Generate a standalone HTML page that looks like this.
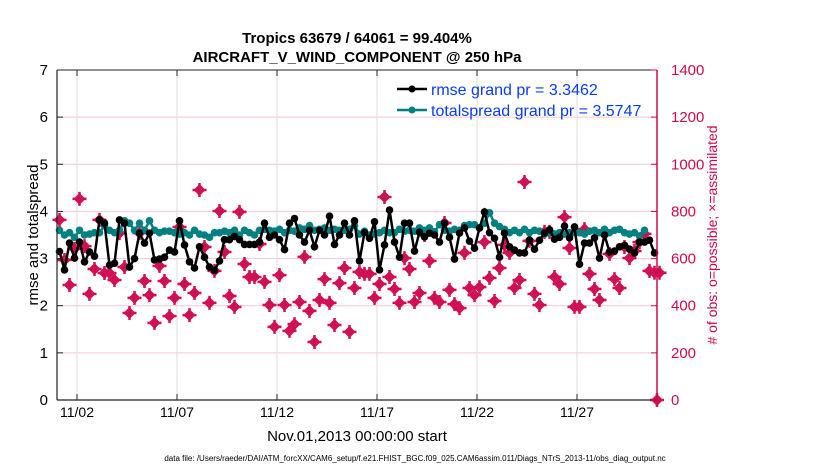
<!DOCTYPE html>
<html><head><meta charset="utf-8"><style>
body{margin:0;background:#fff;}
svg{display:block;font-family:"Liberation Sans",Arial,sans-serif;}
</style></head><body>
<svg id="chart" width="830" height="470" viewBox="0 0 830 470">
<text x="357" y="43" text-anchor="middle" font-size="15" font-weight="bold">Tropics 63679 / 64061 = 99.404%</text>
<text x="357" y="62" text-anchor="middle" font-size="15" font-weight="bold">AIRCRAFT_V_WIND_COMPONENT @ 250 hPa</text>
<g id="grid"></g>
<g id="marks"></g>
<g id="axes"></g>
<text transform="translate(38,235) rotate(-90)" text-anchor="middle" font-size="15">rmse and totalspread</text>
<text transform="translate(717,235) rotate(-90)" text-anchor="middle" font-size="14" fill="#cc0a4a"># of obs: o=possible; ×=assimilated</text>
<text x="357" y="441" text-anchor="middle" font-size="15">Nov.01,2013 00:00:00 start</text>
<text x="415" y="461" text-anchor="middle" font-size="8">data file: /Users/raeder/DAI/ATM_forcXX/CAM6_setup/f.e21.FHIST_BGC.f09_025.CAM6assim.011/Diags_NTrS_2013-11/obs_diag_output.nc</text>
<g>
<line x1="397" y1="89" x2="427" y2="89" stroke="#000" stroke-width="2.5"/><circle cx="412" cy="89" r="3.5" fill="#000"/>
<text x="431" y="95" font-size="16" fill="#0a3cf5">rmse grand pr = 3.3462</text>
<line x1="397" y1="110" x2="427" y2="110" stroke="#008080" stroke-width="2.5"/><circle cx="412" cy="110" r="3.5" fill="#008080"/>
<text x="431" y="116" font-size="16" fill="#0a3cf5">totalspread grand pr = 3.5747</text>
</g>
</svg>
<script>
const xTickLabels=["11/02","11/07","11/12","11/17","11/22","11/27"];
const xTickDays=[1,6,11,16,21,26];
const yTicks=[0,1,2,3,4,5,6,7];
const y2Ticks=[0,200,400,600,800,1000,1200,1400];
const rmse=[3.15,2.76,3.33,3.01,3.35,2.93,3.14,3.05,3.82,3.75,2.86,2.9,3.82,3.75,2.82,3.0,3.54,3.33,3.54,2.97,2.99,3.03,3.18,3.14,3.8,3.29,2.93,2.8,3.25,3.03,2.82,
2.75,2.95,3.4,3.4,3.47,3.4,3.3,3.3,3.3,3.35,3.75,3.45,3.5,3.4,3.19,3.75,3.85,3.5,3.35,3.6,3.25,3.6,3.5,3.9,3.3,3.5,3.75,3.5,3.8,2.95,3.55,
3.43,3.78,2.76,3.29,4.03,3.35,3.03,3.75,3.75,3.16,3.56,3.46,3.54,3.5,3.35,3.75,3.45,2.99,3.54,3.65,3.37,3.22,3.65,3.99,3.55,3.43,3.03,3.54,3.25,3.18,
3.12,3.12,3.39,3.2,3.39,3.54,3.61,3.41,3.45,3.69,3.44,3.67,2.88,3.33,3.33,3.44,3.01,3.5,3.14,3.16,3.25,3.28,3.2,3.12,3.35,3.35,3.39,3.12];
const spread=[3.6,3.5,3.55,3.45,3.6,3.5,3.52,3.55,3.55,3.7,3.6,3.55,3.6,3.8,3.75,3.6,3.75,3.6,3.8,3.6,3.55,3.58,3.58,3.55,3.52,3.55,3.5,3.6,3.52,3.5,3.45,
3.55,3.55,3.58,3.55,3.6,3.5,3.6,3.55,3.5,3.6,3.62,3.6,3.58,3.62,3.55,3.6,3.58,3.65,3.62,3.7,3.6,3.62,3.65,3.6,3.62,3.6,3.6,3.62,3.7,3.52,3.58,
3.5,3.52,3.55,3.6,3.55,3.55,3.62,3.58,3.6,3.58,3.65,3.6,3.65,3.57,3.72,3.6,3.58,3.62,3.6,3.7,3.72,3.72,3.65,3.75,3.97,3.75,3.68,3.62,3.55,3.6,
3.55,3.62,3.55,3.6,3.58,3.52,3.55,3.52,3.55,3.52,3.55,3.55,3.55,3.52,3.58,3.6,3.55,3.62,3.55,3.6,3.62,3.55,3.52,3.55,3.48,3.6];
const obs=[764,594,488,641,853,653,450,556,764,539,539,509,708,564,369,433,708,505,445,327,569,505,356,433,734,492,360,454,891,649,412,
548,802,628,441,395,798,577,522,522,662,501,403,310,530,403,293,322,416,607,378,246,424,513,412,318,496,560,289,475,543,
535,535,433,492,861,522,471,412,602,556,416,454,700,590,433,416,751,467,407,390,624,475,445,479,670,518,420,560,658,624,475,
509,925,675,450,403,713,713,522,492,776,645,395,395,725,535,471,424,708,620,513,475,649,602,632,670,705,548,540,540,0];
const svg=document.getElementById('chart');
const L=57,R=657,T=70,B=400,NS='http://www.w3.org/2000/svg';
const xs=d=>L+d*(R-L)/30;
const ys=v=>B-v*(B-T)/7;
const y2s=v=>B-v*(B-T)/1400;
function mk(tag,attrs,parent){const e=document.createElementNS(NS,tag);for(const k in attrs)e.setAttribute(k,attrs[k]);parent.appendChild(e);return e;}
const grid=document.getElementById('grid'),marks=document.getElementById('marks'),axes=document.getElementById('axes');
yTicks.forEach(v=>{if(v>0&&v<7){const g=mk('line',{x1:L,x2:R,y1:ys(v),y2:ys(v),stroke:'#f2c8d6','stroke-width':1},grid);

}});
xTickDays.forEach((d,i)=>{const g=mk('line',{x1:xs(d),x2:xs(d),y1:T,y2:B,stroke:'#dcdcdc','stroke-width':1},grid);


const t=mk('text',{x:xs(d),y:417,'text-anchor':'middle','font-size':14},axes);t.textContent=xTickLabels[i];


[[B,B-6],[T,T+6]].forEach(p=>{mk('line',{x1:xs(d),x2:xs(d),y1:p[0],y2:p[1],stroke:'#222'},axes);});});
const tx=d=>xs(d);
obs.forEach((v,i)=>{const d=(i===obs.length-1)?30:i*0.25+0.125;const x=tx(d),y=y2s(v);
const g=document.createElementNS(NS,'g');marks.appendChild(g);


mk('path',{d:`M${x-6} ${y}L${x} ${y-6}L${x+6} ${y}L${x} ${y+6}Z`,fill:'#d10f55'},g);
mk('path',{d:`M${x-7} ${y}H${x+7}M${x} ${y-7}V${y+7}`,stroke:'#d10f55','stroke-width':2.5},g);
mk('circle',{cx:x,cy:y,r:4,fill:'#d10f55'},g);});
function series(arr,color,name){
const pts=arr.map((v,i)=>[tx(i*0.25+0.125),ys(v)]);
const pl=mk('polyline',{points:pts.map(p=>p.join(',')).join(' '),fill:'none',stroke:color,'stroke-width':2.5},marks);


pts.forEach(p=>{const c=mk('circle',{cx:p[0],cy:p[1],r:3.8,fill:color},marks);

});}
series(spread,'#008080','spread');
series(rmse,'#000','rmse');
mk('line',{x1:L,x2:L,y1:T,y2:B,stroke:'#222','stroke-width':1.2},axes);
mk('line',{x1:L,x2:R,y1:B,y2:B,stroke:'#222','stroke-width':1.2},axes);
mk('line',{x1:L,x2:R,y1:T,y2:T,stroke:'#222','stroke-width':1},axes);
mk('line',{x1:R,x2:R,y1:T,y2:B,stroke:'#cc0a4a','stroke-width':1.5},axes);
yTicks.forEach(v=>{mk('line',{x1:L,x2:L+6,y1:ys(v),y2:ys(v),stroke:'#222'},axes);
const t=mk('text',{x:L-9,y:ys(v)+5,'text-anchor':'end','font-size':15},axes);t.textContent=v;

});
y2Ticks.forEach(v=>{mk('line',{x1:R-6,x2:R,y1:y2s(v),y2:y2s(v),stroke:'#cc0a4a'},axes);
const t=mk('text',{x:R+14,y:y2s(v)+5,'text-anchor':'start','font-size':15,fill:'#cc0a4a'},axes);t.textContent=v;

});
</script>
</body></html>
